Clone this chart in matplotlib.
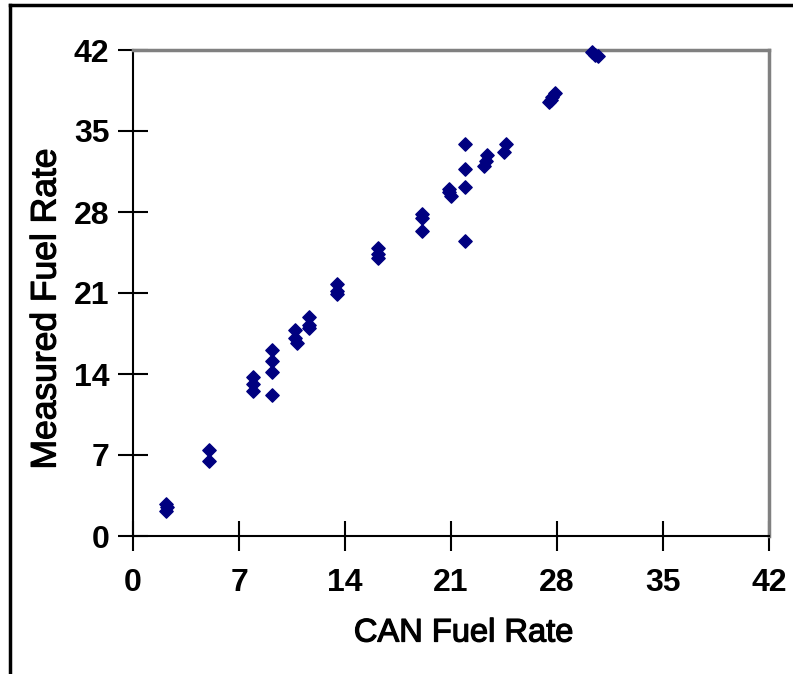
import matplotlib
matplotlib.use("Agg")
import matplotlib.pyplot as plt
from matplotlib.lines import Line2D
import matplotlib.patheffects as pe

can_rate = [2.2, 2.25, 2.2,
            5.0, 5.0,
            7.9, 7.9, 7.9,
            9.2, 9.2, 9.2, 9.2,
            10.7, 10.7, 10.8,
            11.6, 11.6, 11.6,
            13.5, 13.5, 13.5,
            16.2, 16.2, 16.2,
            19.1, 19.1, 19.1,
            21.9, 21.9, 21.9, 21.9,
            20.9, 20.9, 21.0,
            23.4, 23.3, 23.2,
            24.6, 24.5,
            27.5, 27.7, 27.9, 27.6,
            30.3, 30.5, 30.7]
measured_rate = [2.8, 2.5, 2.2,
                 7.4, 6.5,
                 13.7, 13.1, 12.5,
                 16.1, 15.1, 14.2, 12.2,
                 17.8, 17.1, 16.7,
                 18.9, 18.2, 18.0,
                 21.8, 21.2, 20.9,
                 24.9, 24.4, 24.0,
                 27.8, 27.5, 26.4,
                 33.9, 31.7, 30.2, 25.5,
                 30.0, 29.7, 29.4,
                 32.9, 32.4, 32.0,
                 33.9, 33.2,
                 37.5, 37.9, 38.3, 37.7,
                 41.8, 41.6, 41.5]
ticks = [0, 7, 14, 21, 28, 35, 42]

plt.rcParams['font.family'] = ['Liberation Sans', 'DejaVu Sans']

W, H = 793, 674
fig = plt.figure(figsize=(W / 100, H / 100), dpi=100)
ax = fig.add_axes([133 / W, 1 - 536 / H, (769 - 133) / W, (536 - 50) / H])

ax.scatter(can_rate, measured_rate, marker='D', s=46, color='#000080',
           edgecolors='#000080', linewidths=1.0, zorder=3, clip_on=False)

ax.set_xlim(0, 42)
ax.set_ylim(0, 42)
ax.set_xticks(ticks)
ax.set_yticks(ticks)
ax.set_xticklabels([str(t) for t in ticks], fontsize=23, fontweight='bold')
ax.set_yticklabels([str(t) for t in ticks], fontsize=23, fontweight='bold')
ax.tick_params(axis='both', direction='inout', length=22, width=1.5, color='black')
ax.tick_params(axis='x', pad=12)
ax.tick_params(axis='y', pad=6)

for s in ['left', 'bottom']:
    ax.spines[s].set_color('black')
    ax.spines[s].set_linewidth(1.5)
for s in ['top', 'right']:
    ax.spines[s].set_color('#808080')
    ax.spines[s].set_linewidth(2.5)

stroke = [pe.withStroke(linewidth=0.9, foreground='black')]
fig.text((355 + 572) / 2 / W, 1 - 633 / H, 'CAN Fuel Rate',
         ha='center', va='center', fontsize=23.5, path_effects=stroke)
fig.text(46 / W, 1 - 309 / H, 'Measured Fuel Rate', rotation=90,
         ha='center', va='center', fontsize=25.5, path_effects=stroke)

# outer frame
fig.add_artist(Line2D([9.5 / W, 9.5 / W], [0, 1 - 5 / H], transform=fig.transFigure,
                      color='black', linewidth=2.5))
fig.add_artist(Line2D([9.5 / W, 1], [1 - 5 / H, 1 - 5 / H], transform=fig.transFigure,
                      color='black', linewidth=2.5))

fig.savefig('out.png', dpi=100)
